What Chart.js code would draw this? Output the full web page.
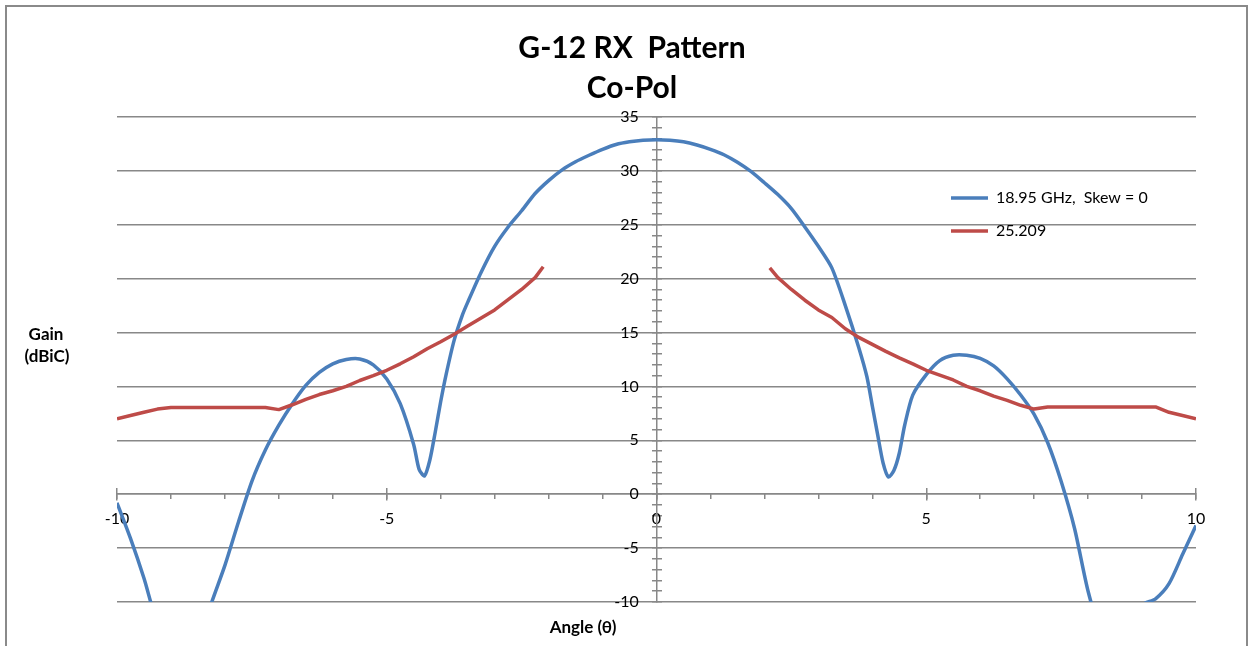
<!DOCTYPE html>
<html>
<head>
<meta charset="utf-8">
<title>G-12 RX Pattern</title>
<script src="https://cdn.jsdelivr.net/npm/chart.js@4.4.1/dist/chart.umd.min.js"></script>
<style>
  html, body { margin: 0; padding: 0; background: #fff; overflow: hidden; }
  #wrap { position: relative; width: 1251px; height: 646px; }
  #frame { position: absolute; left: 5px; top: 5px; width: 1243px; height: 700px;
           border: 2px solid #8a8a8a; box-sizing: border-box; pointer-events: none; }
  canvas { position: absolute; left: 0; top: 0; }
</style>
</head>
<body>
<div id="wrap">
  <canvas id="chartPattern" width="1251" height="646"></canvas>
  <div id="frame"></div>
</div>
<script>
// 18.95 GHz, Skew = 0
const blueAngles = [-10, -9.75, -9.5, -9.25, -9, -8.75, -8.5, -8.25, -8, -7.75, -7.5, -7.25,
  -7, -6.75, -6.5, -6.25, -6, -5.75, -5.5, -5.25, -5, -4.75, -4.5, -4.4, -4.3, -4.2, -4.1,
  -4, -3.9, -3.75, -3.6, -3.5, -3.25, -3, -2.75, -2.5, -2.25, -2, -1.75, -1.5, -1.25, -1,
  -0.75, -0.5, -0.25, 0, 0.25, 0.5, 0.75, 1, 1.25, 1.5, 1.75, 2, 2.25, 2.5, 2.75, 3, 3.25,
  3.5, 3.75, 3.9, 4, 4.1, 4.2, 4.3, 4.4, 4.5, 4.6, 4.75, 5, 5.25, 5.5, 5.75, 6, 6.25, 6.5,
  6.75, 7, 7.25, 7.5, 7.75, 8, 8.25, 8.5, 8.75, 9, 9.25, 9.5, 9.75, 10];
const blueGain = [-0.8, -4.1, -7.8, -12, -14, -15, -14, -10.1, -6.6, -2.6, 1.2, 4.1,
  6.4, 8.4, 10.1, 11.3, 12.1, 12.5, 12.55, 12.0, 10.7, 8.4, 4.6, 2.3, 1.7, 3.2, 5.8,
  8.6, 11.1, 14.3, 16.6, 17.8, 20.6, 23.0, 24.8, 26.3, 27.9, 29.1, 30.1, 30.85, 31.45, 32.0,
  32.45, 32.7, 32.85, 32.9, 32.85, 32.7, 32.4, 32.0, 31.5, 30.8, 29.95, 28.9, 27.8, 26.5, 24.8, 23.0, 21.0,
  17.5, 13.6, 10.9, 8.2, 5.5, 2.9, 1.6, 2.2, 3.8, 6.4, 9.2, 11.1, 12.4, 12.9, 12.9, 12.6, 11.9, 10.7,
  9.2, 7.4, 4.8, 1.2, -3.2, -9.0, -13, -15, -13, -10.3, -9.7, -8.3, -5.6, -2.9];

// 25.209 (no data between -2.1 and 2.1)
const redAngles = [-10, -9.75, -9.5, -9.25, -9, -8.5, -8, -7.5, -7.25, -7, -6.75, -6.5,
  -6.25, -6, -5.75, -5.5, -5.25, -5, -4.75, -4.5, -4.25, -4, -3.75, -3.5, -3.25, -3,
  -2.75, -2.5, -2.25, -2.1, 0, 2.1, 2.25, 2.5, 2.75, 3, 3.25, 3.5, 3.75, 4, 4.25, 4.5,
  4.75, 5, 5.25, 5.5, 5.75, 6, 6.25, 6.5, 6.75, 7, 7.25, 7.5, 8, 8.5, 9, 9.25, 9.5, 9.75, 10];
const redGain = [7.0, 7.3, 7.6, 7.9, 8.05, 8.05, 8.05, 8.05, 8.05, 7.85, 8.3, 8.8,
  9.25, 9.6, 10.0, 10.55, 11.0, 11.5, 12.1, 12.75, 13.5, 14.15, 14.85, 15.6, 16.35, 17.1,
  18.05, 19.0, 20.1, 21.1, null, 21.0, 20.1, 19.0, 18.0, 17.1, 16.4, 15.35, 14.55, 13.9, 13.25, 12.65,
  12.1, 11.5, 11.05, 10.6, 10.0, 9.6, 9.1, 8.7, 8.25, 7.9, 8.1, 8.1, 8.1, 8.1, 8.1, 8.1, 7.6, 7.3, 7.0];

const xTicks = { min: -10, max: 10, major: 5, minor: 1 };
const yTicks = { min: -10, max: 35, major: 5, minor: 1 };

const GREY = '#888888';
const FONT = 'Lato, "Open Sans", sans-serif';

function toPoints(xs, ys) {
  return xs.map((x, i) => ({ x: x, y: ys[i] }));
}

// axes sit on the zero lines, so they must not take layout room
const noHeight = (s) => { s.height = 0; };
const noWidth = (s) => { s.width = 0; };

function tickAxis(axis, lim, step, len) {
  return {
    axis: axis, type: 'linear', min: lim.min, max: lim.max,
    position: axis === 'x' ? { y: 0 } : { x: 0 },
    afterFit: axis === 'x' ? noHeight : noWidth,
    ticks: { stepSize: step, display: false },
    grid: { drawOnChartArea: false, color: GREY, lineWidth: 1.5, tickLength: len },
    border: { display: false }
  };
}

// legend, title and axis titles placed like the spreadsheet did
const placement = {
  id: 'placement',
  afterLayout(chart) {
    const lg = chart.legend;
    lg.left = 934; lg.right = 1240; lg.top = 173; lg.bottom = 400;
    const tb = chart.titleBlock;
    tb.left = 68; tb.right = 1196;
  },
  afterDraw(chart) {
    const ctx = chart.ctx;
    ctx.save();
    ctx.fillStyle = '#000';
    ctx.font = 'bold 17px ' + FONT;
    ctx.textAlign = 'center';
    ctx.textBaseline = 'middle';
    ctx.fillText('Gain', 46, 335);
    ctx.fillText('(dBiC)', 47, 357);
    ctx.fillText('Angle (θ)', 583, 628);
    ctx.restore();
  }
};

new Chart(document.getElementById('chartPattern'), {
  type: 'line',
  data: {
    datasets: [{
      label: '18.95 GHz,  Skew = 0',
      data: toPoints(blueAngles, blueGain),
      borderColor: '#4a7ebb',
      backgroundColor: '#4a7ebb',
      borderWidth: 3.5,
      pointRadius: 0,
      tension: 0.25,
      borderJoinStyle: 'round',
      clip: 0
    }, {
      label: '25.209',
      data: toPoints(redAngles, redGain),
      borderColor: '#be4b48',
      backgroundColor: '#be4b48',
      borderWidth: 3.5,
      pointRadius: 0,
      tension: 0,
      borderJoinStyle: 'round',
      spanGaps: false,
      order: -1,
      clip: 0
    }]
  },
  options: {
    responsive: false,
    animation: false,
    devicePixelRatio: 1,
    layout: { padding: { left: 117, right: 55, top: 0, bottom: 44 } },
    plugins: {
      title: {
        display: true,
        text: ['G-12 RX  Pattern', 'Co-Pol'],
        color: '#000',
        font: { family: FONT, size: 30, weight: 'bold', lineHeight: 40 / 30 },
        padding: { top: 28, bottom: 9 }
      },
      legend: {
        position: 'chartArea',
        align: 'start',
        labels: {
          color: '#000',
          font: { family: FONT, size: 16 },
          usePointStyle: true,
          pointStyle: 'line',
          pointStyleWidth: 37,
          padding: 17,
          sort: (a, b) => a.datasetIndex - b.datasetIndex
        }
      },
      tooltip: { enabled: false }
    },
    scales: {
      x: {
        type: 'linear', min: xTicks.min, max: xTicks.max,
        position: { y: 0 },
        afterFit: noHeight,
        ticks: { stepSize: xTicks.major, color: '#000', font: { family: FONT, size: 16 },
                 padding: 9, maxRotation: 0, autoSkip: false },
        grid: { drawOnChartArea: false, color: GREY, lineWidth: 1.5, tickLength: 6 },
        border: { color: GREY, width: 1.5 }
      },
      xMajorUp: tickAxis('x', xTicks, xTicks.major, -6),
      xMinor: tickAxis('x', xTicks, xTicks.minor, 5),
      y: {
        type: 'linear', min: yTicks.min, max: yTicks.max,
        position: { x: 0 },
        afterFit: noWidth,
        ticks: { stepSize: yTicks.major, display: false },
        grid: { color: GREY, lineWidth: 1.5, drawTicks: false },
        border: { color: GREY, width: 1.5 }
      },
      // value labels of the gain axis, set a little left of the axis line
      yLabels: {
        axis: 'y', type: 'linear', min: yTicks.min, max: yTicks.max,
        position: { x: -0.33 },
        afterFit: noWidth,
        ticks: { stepSize: yTicks.major, color: '#000', font: { family: FONT, size: 16 }, autoSkip: false },
        grid: { display: false },
        border: { display: false }
      },
      yMinorLeft: tickAxis('y', yTicks, yTicks.minor, 5),
      yMinorRight: tickAxis('y', yTicks, yTicks.minor, -5)
    }
  },
  plugins: [placement]
});
</script>
</body>
</html>
